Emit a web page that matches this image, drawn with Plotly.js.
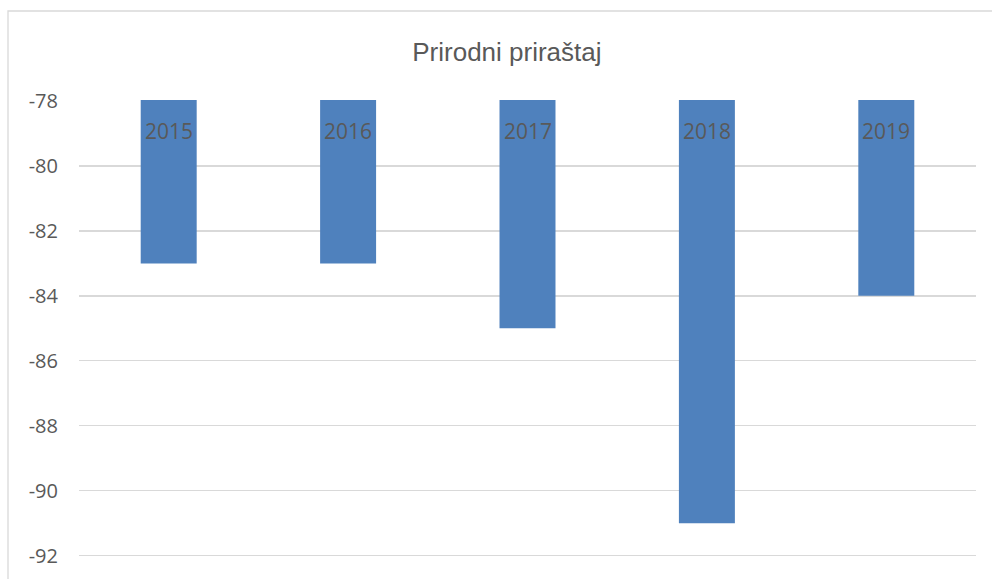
<!DOCTYPE html>
<html>
<head>
<meta charset="utf-8">
<script src="https://cdn.plot.ly/plotly-3.0.1.min.js"></script>
<style>html,body{margin:0;padding:0;background:#fff;}#chart{width:992px;height:579px;}</style>
</head>
<body>
<div id="chart"></div>
<script>
const categories = ["2015", "2016", "2017", "2018", "2019"];
const values = [-83, -83, -85, -91, -84];
const yTicks = [-78, -80, -82, -84, -86, -88, -90, -92];
const chartTitle = "Prirodni priraštaj";

const trace = {
  type: "bar",
  x: categories.map((c, i) => i),
  y: values,
  marker: {color: "#4F81BD", line: {width: 0}},
  hoverinfo: "skip"
};

const annotations = categories.map((c, i) => ({
  x: i, y: -78, xref: "x", yref: "y",
  text: c, showarrow: false,
  yanchor: "middle", yshift: -30,
  font: {family: "Open Sans, sans-serif", size: 21, color: "#595959"}
}));

const layout = {
  width: 992, height: 579,
  margin: {l: 79, r: 16, t: 100, b: 8},
  paper_bgcolor: "#ffffff", plot_bgcolor: "#ffffff",
  showlegend: false,
  bargap: 0.688,
  title: {
    text: chartTitle,
    xref: "container", yref: "container",
    x: 0.511, y: 1 - 52/579, xanchor: "center", yanchor: "middle",
    font: {family: "Liberation Sans, Arial, sans-serif", size: 26, color: "#595959"}
  },
  xaxis: {
    type: "linear", range: [-0.5, 4.5], fixedrange: true,
    showticklabels: false, showgrid: false, zeroline: false, showline: false, ticks: ""
  },
  yaxis: {
    range: [-92.47, -77.97],
    tickvals: yTicks,
    ticktext: yTicks.map(String),
    showgrid: true, gridcolor: "#D9D9D9", gridwidth: 1.3,
    zeroline: false, showline: false, ticks: "",
    ticklabelstandoff: 20,
    tickfont: {family: "Open Sans, sans-serif", size: 20, color: "#595959"}
  },
  annotations: annotations,
  shapes: [{
    type: "rect", xref: "paper", yref: "paper",
    x0: (8 - 79) / 897, x1: 1.1, y0: -0.1, y1: 1 + 89 / 471,
    line: {color: "#D9D9D9", width: 1.3}, fillcolor: "rgba(0,0,0,0)", layer: "below"
  }]
};

Plotly.newPlot("chart", [trace], layout, {staticPlot: true, displayModeBar: false});
</script>
</body>
</html>
